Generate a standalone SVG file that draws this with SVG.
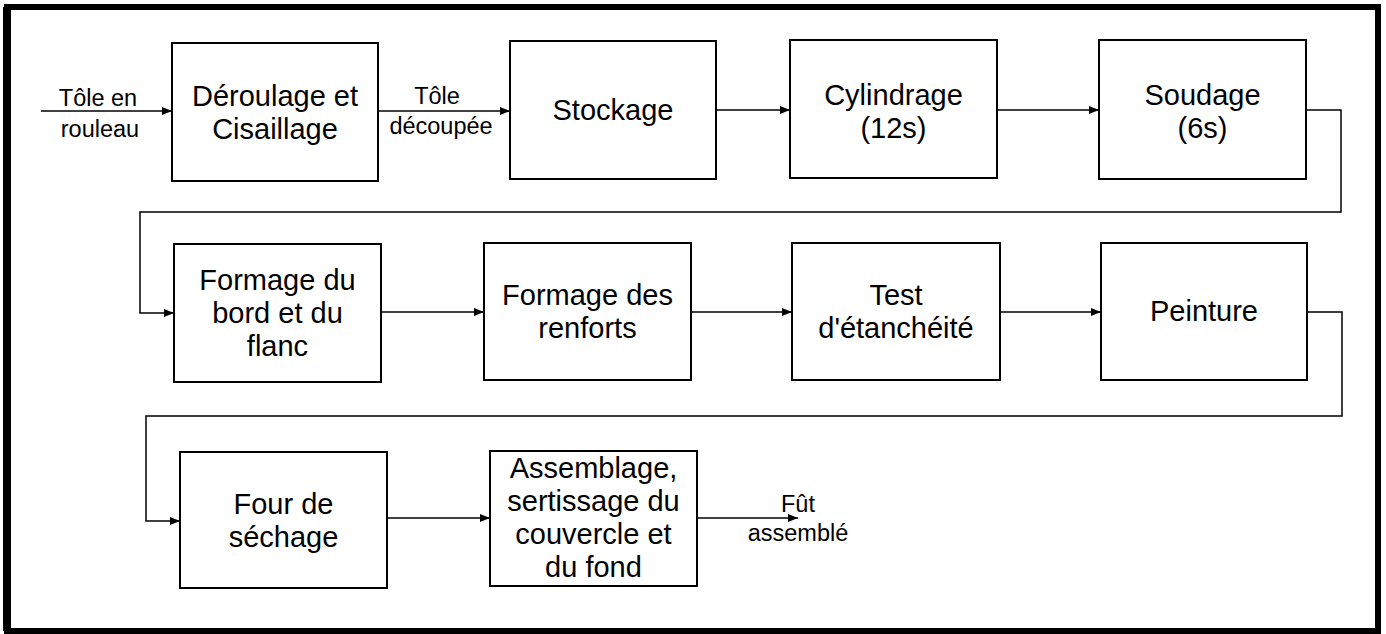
<svg xmlns="http://www.w3.org/2000/svg" width="1386" height="634" viewBox="0 0 1386 634">
<defs>
<marker id="ah" viewBox="0 0 10 8" refX="10" refY="4" markerWidth="10" markerHeight="8" markerUnits="userSpaceOnUse" orient="auto">
<path d="M0,0 L10,4 L0,8 Z" fill="#000"/>
</marker>
<style>
.box{fill:#fff;stroke:#000;stroke-width:2}
.t{font-family:"Liberation Sans",Arial,sans-serif;font-size:29px;fill:#000;text-anchor:middle}
.l{font-family:"Liberation Sans",Arial,sans-serif;font-size:23.5px;fill:#000;text-anchor:middle}
.c{fill:none;stroke:#000;stroke-width:1.5}
</style>
</defs>
<rect x="0" y="0" width="1386" height="634" fill="#fff"/>
<rect x="7" y="7" width="1371" height="624" fill="none" stroke="#000" stroke-width="6"/>
<line x1="7" y1="7" x2="7" y2="631" stroke="#000" stroke-width="8"/>

<g id="connectors">
<line class="c" x1="41" y1="111" x2="172" y2="111" marker-end="url(#ah)"/>
<line class="c" x1="378" y1="111" x2="510" y2="111" marker-end="url(#ah)"/>
<line class="c" x1="716" y1="110" x2="790" y2="110" marker-end="url(#ah)"/>
<line class="c" x1="997" y1="110" x2="1099" y2="110" marker-end="url(#ah)"/>
<polyline class="c" points="1306,110 1341,110 1341,212 140,212 140,313 174,313" marker-end="url(#ah)"/>
<line class="c" x1="381" y1="312" x2="484" y2="312" marker-end="url(#ah)"/>
<line class="c" x1="691" y1="312" x2="792" y2="312" marker-end="url(#ah)"/>
<line class="c" x1="1000" y1="312" x2="1101" y2="312" marker-end="url(#ah)"/>
<polyline class="c" points="1307,312 1342,312 1342,416 146,416 146,521 180,521" marker-end="url(#ah)"/>
<line class="c" x1="387" y1="518" x2="490" y2="518" marker-end="url(#ah)"/>
<line class="c" x1="697" y1="518" x2="798" y2="518" marker-end="url(#ah)"/>
<text class="l" x="98" y="106">Tôle en</text>
<text class="l" x="100" y="137">rouleau</text>
<text class="l" x="437" y="104">Tôle</text>
<text class="l" x="441" y="134">découpée</text>
<text class="l" x="798" y="512">Fût</text>
<text class="l" x="798" y="541">assemblé</text>
</g>

<g id="n1"><rect class="box" x="172" y="43" width="206" height="138"/>
<text class="t" x="275" y="106">Déroulage et</text><text class="t" x="275" y="139">Cisaillage</text></g>
<g id="n2"><rect class="box" x="510" y="41" width="206" height="138"/>
<text class="t" x="613" y="120">Stockage</text></g>
<g id="n3"><rect class="box" x="790" y="40" width="207" height="138"/>
<text class="t" x="893.5" y="105">Cylindrage</text><text class="t" x="893.5" y="138">(12s)</text></g>
<g id="n4"><rect class="box" x="1099" y="40" width="207" height="139"/>
<text class="t" x="1202.5" y="105">Soudage</text><text class="t" x="1202.5" y="138">(6s)</text></g>

<g id="n5"><rect class="box" x="174" y="244" width="207" height="138"/>
<text class="t" x="277.5" y="290">Formage du</text><text class="t" x="277.5" y="323">bord et du</text><text class="t" x="277.5" y="356">flanc</text></g>
<g id="n6"><rect class="box" x="484" y="243" width="207" height="137"/>
<text class="t" x="587.5" y="305">Formage des</text><text class="t" x="587.5" y="338">renforts</text></g>
<g id="n7"><rect class="box" x="792" y="243" width="208" height="137"/>
<text class="t" x="896" y="305">Test</text><text class="t" x="896" y="338">d'étanchéité</text></g>
<g id="n8"><rect class="box" x="1101" y="243" width="206" height="137"/>
<text class="t" x="1204" y="321">Peinture</text></g>

<g id="n9"><rect class="box" x="180" y="452" width="207" height="136"/>
<text class="t" x="283.5" y="514">Four de</text><text class="t" x="283.5" y="547">séchage</text></g>
<g id="n10"><rect class="box" x="490" y="451" width="207" height="135"/>
<text class="t" x="593.5" y="478">Assemblage,</text><text class="t" x="593.5" y="511">sertissage du</text><text class="t" x="593.5" y="544">couvercle et</text><text class="t" x="593.5" y="577">du fond</text></g>
</svg>
